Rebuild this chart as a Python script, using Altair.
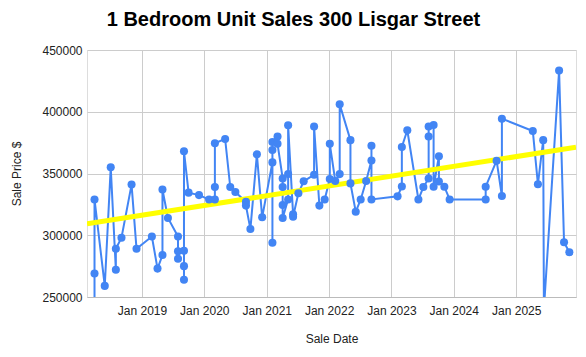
import altair as alt
import pandas as pd

sale_dates = [
    "2018-03-29", "2018-03-29", "2018-03-29", "2018-05-28", "2018-07-02",
    "2018-08-01", "2018-08-01", "2018-09-03", "2018-11-01", "2018-11-30",
    "2019-02-28", "2019-04-02", "2019-05-01", "2019-05-01", "2019-06-02",
    "2019-07-31", "2019-07-31", "2019-07-31",
    "2019-09-04", "2019-09-04", "2019-09-04", "2019-09-04",
    "2019-10-01", "2019-12-01", "2020-01-29",
    "2020-03-03", "2020-03-03", "2020-03-03",
    "2020-05-02", "2020-06-01", "2020-07-01",
    "2020-09-01", "2020-09-01", "2020-09-27", "2020-11-04", "2020-12-05",
    "2021-02-03", "2021-02-03", "2021-02-03", "2021-02-03",
    "2021-03-05", "2021-03-05",
    "2021-04-04", "2021-04-04", "2021-04-04", "2021-04-04",
    "2021-05-06", "2021-05-06", "2021-05-06",
    "2021-06-04", "2021-06-04", "2021-07-05", "2021-08-05",
    "2021-10-05", "2021-10-05", "2021-11-05", "2021-12-06",
    "2022-01-05", "2022-01-05", "2022-02-06",
    "2022-03-04", "2022-03-04",
    "2022-05-06", "2022-05-06", "2022-06-06", "2022-07-05", "2022-08-06",
    "2022-09-06", "2022-09-06", "2022-09-06",
    "2023-02-06", "2023-03-03", "2023-03-03", "2023-04-04",
    "2023-06-08", "2023-07-07",
    "2023-08-07", "2023-08-07", "2023-08-07",
    "2023-09-05", "2023-09-05",
    "2023-10-06", "2023-10-06", "2023-11-07", "2023-12-08",
    "2024-07-06", "2024-07-06", "2024-09-08",
    "2024-10-09", "2024-10-09",
    "2025-04-08", "2025-05-08", "2025-06-08", "2025-06-12",
    "2025-09-09", "2025-10-08", "2025-11-08",
]

sale_prices = [
    240000, 269000, 329000, 259000, 355000,
    272000, 289000, 298000, 341000, 289000,
    299000, 273000, 284000, 337000, 314000,
    299000, 281000, 287000,
    287500, 275000, 264000, 368000,
    334500, 332500, 329000,
    329000, 339000, 374500,
    378000, 339000, 335000,
    327000, 324000, 305000, 365500, 314500,
    359000, 294000, 369000, 375500,
    380000, 374000,
    346000, 339000, 324500, 314000,
    329000, 349500, 389000,
    317000, 315000, 334000, 343700,
    349000, 388000, 324000, 329000,
    345500, 374000, 344000,
    349500, 406000,
    377000, 342000, 319000, 329000, 344000,
    360500, 372500, 329000,
    331500, 339500, 371500, 385000,
    329000, 339000,
    346000, 380000, 388000,
    389300, 339300,
    364000, 343500, 339300, 329000,
    329000, 339300, 360400,
    331800, 394400,
    384400, 341300, 377000, 240000,
    433300, 294300, 286200,
]

trend_dates = ["2018-02-13", "2025-12-17"]
trend_prices = [309200, 371300]

year_ticks = ["2019-01-01", "2020-01-01", "2021-01-01", "2022-01-01",
              "2023-01-01", "2024-01-01", "2025-01-01"]
price_ticks = [250000, 300000, 350000, 400000, 450000]

sales = pd.DataFrame({"date": sale_dates, "price": sale_prices,
                      "idx": list(range(len(sale_dates)))})
trend = pd.DataFrame({"date": trend_dates, "price": trend_prices})

FONT = "Liberation Sans"
BLUE = "#4285F4"

x_enc = alt.X(
    "date:T",
    title="Sale Date",
    scale=alt.Scale(domain=[trend_dates[0], trend_dates[1]]),
    axis=alt.Axis(
        values=[pd.Timestamp(d).isoformat() for d in year_ticks],
        format="%b %Y",
        labelFontSize=12,
        labelColor="#222222",
        labelFont=FONT,
        labelPadding=8,
        ticks=False,
        grid=True,
        gridColor="#cccccc",
        domainColor="#bbbbbb",
        titleFont=FONT,
        titleFontSize=12,
        titleFontWeight="normal",
        titleColor="#222222",
        titlePadding=17,
        labelAngle=0,
    ),
)
y_enc = alt.Y(
    "price:Q",
    title="Sale Price $",
    scale=alt.Scale(domain=[250000, 450000], nice=False, zero=False),
    axis=alt.Axis(
        values=price_ticks,
        format="d",
        labelFontSize=12,
        labelColor="#222222",
        labelFont=FONT,
        labelPadding=5,
        ticks=False,
        domain=False,
        grid=True,
        gridColor="#cccccc",
        titleFont=FONT,
        titleFontSize=12,
        titleFontWeight="normal",
        titleColor="#222222",
        titlePadding=18,
    ),
)

line = alt.Chart(sales).mark_line(color=BLUE, strokeWidth=2, clip=True).encode(
    x=x_enc, y=y_enc, order=alt.Order("idx:Q")
)
pts = alt.Chart(sales).mark_circle(color=BLUE, size=65, opacity=1, clip=True).encode(
    x="date:T", y="price:Q"
)
trend_line = alt.Chart(trend).mark_line(color="#FFFF00", strokeWidth=5, clip=True).encode(
    x="date:T", y="price:Q"
)

chart = (
    alt.layer(line, trend_line, pts)
    .properties(
        width=489,
        height=247,
        padding={"left": 87, "top": 50, "right": 10, "bottom": 60},
        autosize=alt.AutoSizeParams(type="none"),
        title=alt.TitleParams(
            "1 Bedroom Unit Sales 300 Lisgar Street",
            font=FONT,
            fontSize=20,
            fontWeight="bold",
            color="#000000",
            anchor="middle",
            frame="bounds",
            offset=14,
        ),
    )
    .configure_view(stroke=None)
    .configure(background="white")
)

chart.save("out.html", embed_options={"renderer": "svg", "actions": False})
